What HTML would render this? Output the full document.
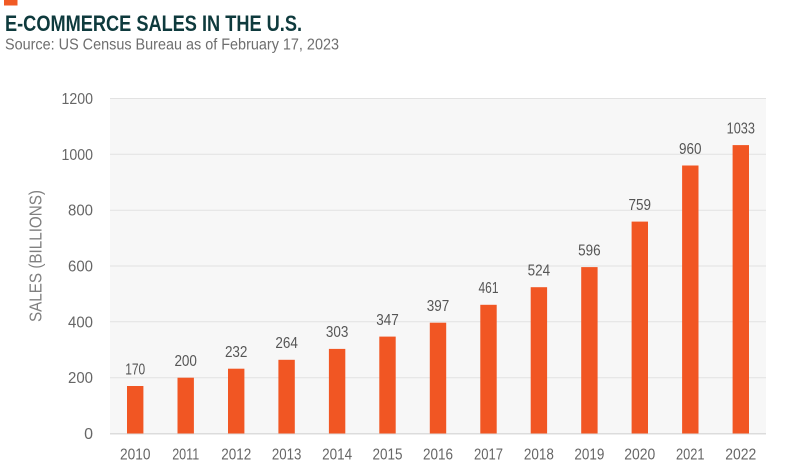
<!DOCTYPE html>
<html><head><meta charset="utf-8"><style>
html,body{margin:0;padding:0;background:#fff;}
svg{display:block;}
text{font-family:"Liberation Sans",sans-serif;}
</style></head><body>
<svg width="801" height="476" viewBox="0 0 801 476" xmlns="http://www.w3.org/2000/svg">
<rect x="0" y="0" width="801" height="476" fill="#fff"/>
<rect x="4" y="0" width="13.5" height="5.5" fill="#f15a24"/>
<text x="5" y="31" font-size="22.5" font-weight="bold" fill="#0e3a3d" textLength="297" lengthAdjust="spacingAndGlyphs">E-COMMERCE SALES IN THE U.S.</text>
<text x="5" y="49.5" font-size="15.5" fill="#6e6e6e" textLength="334" lengthAdjust="spacingAndGlyphs">Source: US Census Bureau as of February 17, 2023</text>
<rect x="110" y="98.5" width="656" height="335.5" fill="#f7f7f7"/>
<g stroke="#e2e2e2" stroke-width="1">
<line x1="110" x2="766" y1="98.5" y2="98.5"/>
<line x1="110" x2="766" y1="154.3" y2="154.3"/>
<line x1="110" x2="766" y1="210.2" y2="210.2"/>
<line x1="110" x2="766" y1="266" y2="266"/>
<line x1="110" x2="766" y1="321.8" y2="321.8"/>
<line x1="110" x2="766" y1="377.7" y2="377.7"/>
<line x1="110" x2="766" y1="433.8" y2="433.8" stroke="#dcdcdc" stroke-width="1.5"/>
</g>
<g font-size="16" fill="#666" text-anchor="end" lengthAdjust="spacingAndGlyphs">
<text x="93" y="104" textLength="31.5" lengthAdjust="spacingAndGlyphs">1200</text>
<text x="93" y="159.8" textLength="31.5" lengthAdjust="spacingAndGlyphs">1000</text>
<text x="93" y="215.7" textLength="25" lengthAdjust="spacingAndGlyphs">800</text>
<text x="93" y="271.5" textLength="25" lengthAdjust="spacingAndGlyphs">600</text>
<text x="93" y="327.3" textLength="25" lengthAdjust="spacingAndGlyphs">400</text>
<text x="93" y="383.2" textLength="25" lengthAdjust="spacingAndGlyphs">200</text>
<text x="93" y="439">0</text>
</g>
<text transform="translate(41.5,256) rotate(-90)" font-size="17.5" fill="#808080" text-anchor="middle" textLength="132" lengthAdjust="spacingAndGlyphs">SALES (BILLIONS)</text>
<g fill="#f15623">
<rect x="127.0" y="386.0" width="16.4" height="47.5"/>
<rect x="177.5" y="377.7" width="16.4" height="55.8"/>
<rect x="228.0" y="368.7" width="16.4" height="64.8"/>
<rect x="278.4" y="359.8" width="16.4" height="73.7"/>
<rect x="328.9" y="348.9" width="16.4" height="84.6"/>
<rect x="379.3" y="336.6" width="16.4" height="96.9"/>
<rect x="429.8" y="322.7" width="16.4" height="110.8"/>
<rect x="480.3" y="304.8" width="16.4" height="128.7"/>
<rect x="530.7" y="287.2" width="16.4" height="146.3"/>
<rect x="581.2" y="267.1" width="16.4" height="166.4"/>
<rect x="631.6" y="221.6" width="16.4" height="211.9"/>
<rect x="682.1" y="165.5" width="16.4" height="268.0"/>
<rect x="732.6" y="145.1" width="16.4" height="288.4"/>
</g>
<g font-size="15.5" fill="#555" text-anchor="middle">
<text x="135.2" y="374.3" textLength="20" lengthAdjust="spacingAndGlyphs">170</text>
<text x="185.7" y="366" textLength="22.5" lengthAdjust="spacingAndGlyphs">200</text>
<text x="236.2" y="357" textLength="22.5" lengthAdjust="spacingAndGlyphs">232</text>
<text x="286.6" y="348.1" textLength="22.5" lengthAdjust="spacingAndGlyphs">264</text>
<text x="337.1" y="337.2" textLength="22.5" lengthAdjust="spacingAndGlyphs">303</text>
<text x="387.5" y="324.9" textLength="22.5" lengthAdjust="spacingAndGlyphs">347</text>
<text x="438.0" y="311" textLength="22.5" lengthAdjust="spacingAndGlyphs">397</text>
<text x="488.5" y="293.1" textLength="20" lengthAdjust="spacingAndGlyphs">461</text>
<text x="538.9" y="275.5" textLength="22.5" lengthAdjust="spacingAndGlyphs">524</text>
<text x="589.4" y="255.4" textLength="22.5" lengthAdjust="spacingAndGlyphs">596</text>
<text x="639.8" y="209.9" textLength="22.5" lengthAdjust="spacingAndGlyphs">759</text>
<text x="690.3" y="153.8" textLength="22.5" lengthAdjust="spacingAndGlyphs">960</text>
<text x="740.8" y="133.4" textLength="28.3" lengthAdjust="spacingAndGlyphs">1033</text>
</g>
<g font-size="16" fill="#666" text-anchor="middle">
<text x="135.2" y="459.5" textLength="30.5" lengthAdjust="spacingAndGlyphs">2010</text>
<text x="185.7" y="459.5" textLength="27" lengthAdjust="spacingAndGlyphs">2011</text>
<text x="236.2" y="459.5" textLength="30" lengthAdjust="spacingAndGlyphs">2012</text>
<text x="286.6" y="459.5" textLength="29.5" lengthAdjust="spacingAndGlyphs">2013</text>
<text x="337.1" y="459.5" textLength="30" lengthAdjust="spacingAndGlyphs">2014</text>
<text x="387.5" y="459.5" textLength="30" lengthAdjust="spacingAndGlyphs">2015</text>
<text x="438.0" y="459.5" textLength="30" lengthAdjust="spacingAndGlyphs">2016</text>
<text x="488.5" y="459.5" textLength="29" lengthAdjust="spacingAndGlyphs">2017</text>
<text x="538.9" y="459.5" textLength="30" lengthAdjust="spacingAndGlyphs">2018</text>
<text x="589.4" y="459.5" textLength="30" lengthAdjust="spacingAndGlyphs">2019</text>
<text x="639.8" y="459.5" textLength="31" lengthAdjust="spacingAndGlyphs">2020</text>
<text x="690.3" y="459.5" textLength="28.5" lengthAdjust="spacingAndGlyphs">2021</text>
<text x="740.8" y="459.5" textLength="31" lengthAdjust="spacingAndGlyphs">2022</text>
</g>
</svg>
</body></html>
